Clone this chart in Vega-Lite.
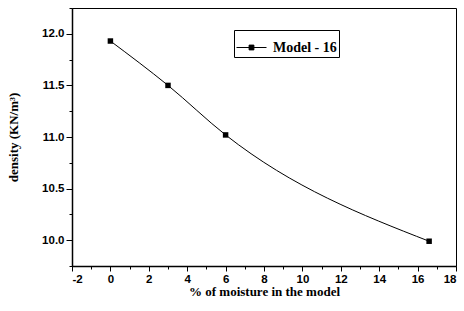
{
  "$schema": "https://vega.github.io/schema/vega-lite/v6.json",
  "width": 384,
  "height": 258,
  "autosize": {"type": "none"},
  "padding": {"left": 72, "top": 8, "right": 8, "bottom": 45},
  "background": "white",
  "config": {
    "view": {"stroke": "black", "strokeWidth": 1},
    "axis": {
      "domainColor": "black", "domainWidth": 1.5, "tickColor": "black", "tickWidth": 1,
      "grid": false, "labelFont": "Liberation Sans", "labelFontWeight": "bold", "labelFontSize": 11.5,
      "labelColor": "black", "titleFont": "Liberation Serif", "titleFontWeight": "bold",
      "titleFontSize": 13, "titleColor": "black"
    }
  },
  "data": {
    "values": [
      {"moisture": 0, "density": 11.93, "series": "Model - 16"},
      {"moisture": 3, "density": 11.5, "series": "Model - 16"},
      {"moisture": 6, "density": 11.02, "series": "Model - 16"},
      {"moisture": 16.6, "density": 9.99, "series": "Model - 16"}
    ]
  },
  "layer": [
    {
      "mark": {"type": "line", "interpolate": "monotone", "color": "black", "strokeWidth": 1},
      "encoding": {
        "x": {"field": "moisture", "type": "quantitative", "scale": {"domain": [-2, 18], "nice": false, "zero": false},
          "axis": {"orient": "bottom", "values": [-2, 0, 2, 4, 6, 8, 10, 12, 14, 16, 18], "tickSize": 5, "labelPadding": 2,
            "labelExpr": "replace(datum.label, '−', '-')",
            "title": "% of moisture in the model", "titlePadding": 1}},
        "y": {"field": "density", "type": "quantitative", "scale": {"domain": [9.75, 12.25], "nice": false, "zero": false},
          "axis": {"orient": "left", "values": [10, 10.5, 11, 11.5, 12], "format": ".1f", "tickSize": 6, "labelPadding": 2,
            "title": "density (KN/m³)", "titlePadding": 21}}
      }
    },
    {
      "mark": {"type": "point", "shape": "square", "filled": true, "size": 30, "opacity": 1},
      "encoding": {
        "x": {"field": "moisture", "type": "quantitative",
          "axis": {"orient": "bottom", "values": [-1, 1, 3, 5, 7, 9, 11, 13, 15, 17], "tickSize": 3, "labels": false, "domain": false, "title": null}},
        "y": {"field": "density", "type": "quantitative",
          "axis": {"orient": "left", "values": [9.75, 10.25, 10.75, 11.25, 11.75, 12.25], "tickSize": 3, "labels": false, "domain": false, "title": null}},
        "color": {"field": "series", "type": "nominal", "scale": {"range": ["black"]},
          "legend": {"title": null, "orient": "none", "legendX": 162, "legendY": 22,
            "strokeColor": "black", "padding": 2, "fillColor": "white",
            "symbolType": "M-1,0H1M-0.16,-0.16H0.16V0.16H-0.16Z",
            "symbolSize": 900, "symbolStrokeWidth": 1, "symbolStrokeColor": "black", "symbolFillColor": "black",
            "labelFont": "Liberation Serif", "labelFontWeight": "bold", "labelFontSize": 14, "labelColor": "black", "labelOffset": 6}}
      }
    }
  ],
  "resolve": {"axis": {"x": "independent", "y": "independent"}}
}
